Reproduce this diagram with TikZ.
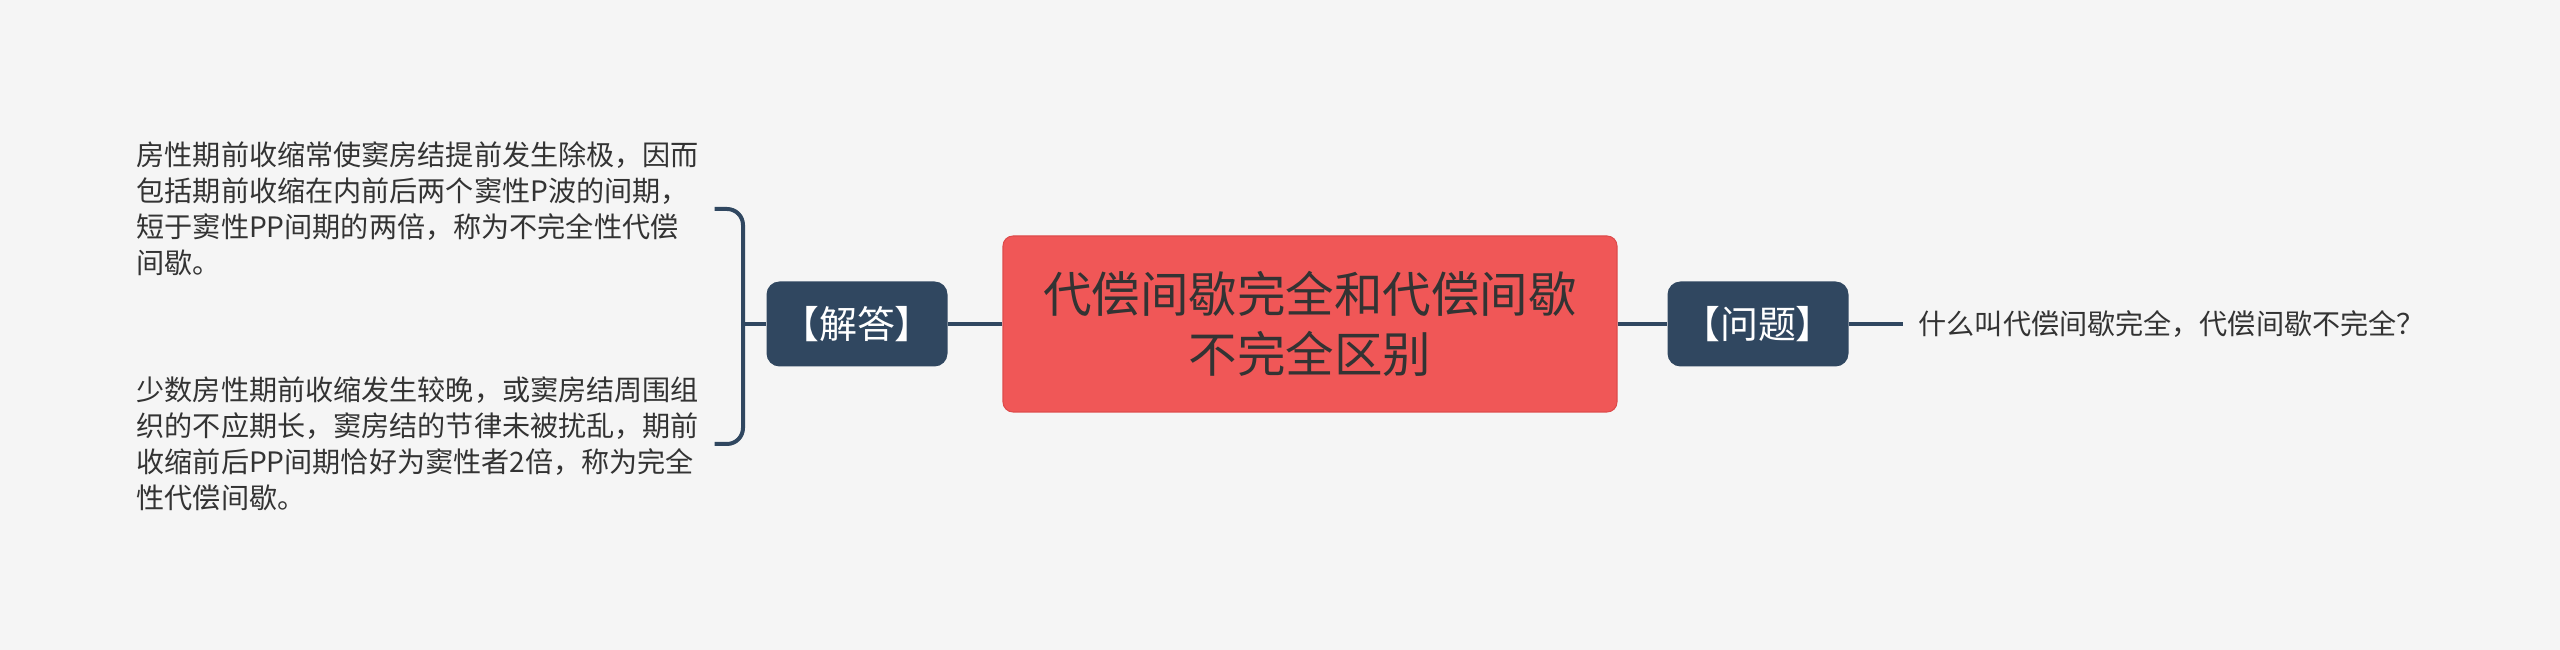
\documentclass[tikz,border=0pt]{standalone}
\usepackage{fontspec}
\setmainfont{Noto Sans CJK SC}
\usetikzlibrary{positioning}

\definecolor{bgcol}{HTML}{F5F5F5}
\definecolor{navy}{HTML}{304760}
\definecolor{coral}{HTML}{F05757}
\definecolor{coraledge}{HTML}{DE4B4B}
\definecolor{ink}{HTML}{333333}

\begin{document}
\begin{tikzpicture}[x=0.1mm, y=-0.1mm,
  every node/.style={font=\fontsize{8pt}{10.25pt}\selectfont, text=ink},
  root/.style={rectangle, rounded corners=1mm, fill=coral, draw=coraledge, line width=0.3pt,
    minimum width=61.4mm, minimum height=17.6mm, align=center,
    font=\fontsize{13.8pt}{17.1pt}\selectfont},
  topic/.style={rectangle, rounded corners=1.3mm, fill=navy, minimum width=18.1mm,
    minimum height=8.5mm, text=white, font=\fontsize{10.8pt}{13pt}\selectfont},
  leaf/.style={align=left, inner xsep=1.5mm, inner ysep=0pt},
  link/.style={draw=navy, line width=0.4mm}]
            \useasboundingbox (0,0) rectangle (2560,650);
            \fill[bgcol] (0,0) rectangle (2560,650);
            \node[root] (root) at (1310,324) {代偿间歇完全和代偿间歇\\不完全区别};
            \node[topic] (ans) at (857,324) {【解答】};
            \node[topic] (qst) at (1758,324) {【问题】};
            \node[leaf, anchor=west] (qtext) at (1903,324) {什么叫代偿间歇完全，代偿间歇不完全？};
            \node[leaf, anchor=west] (ansA) at (121,209) {房性期前收缩常使窦房结提前发生除极，因而\\包括期前收缩在内前后两个窦性P波的间期，\\短于窦性PP间期的两倍，称为不完全性代偿\\间歇。};
            \node[leaf, anchor=west] (ansB) at (121,444) {少数房性期前收缩发生较晚，或窦房结周围组\\织的不应期长，窦房结的节律未被扰乱，期前\\收缩前后PP间期恰好为窦性者2倍，称为完全\\性代偿间歇。};
            \coordinate (brk) at (743,324);
            \draw[link] (root) -- (ans);
            \draw[link] (root) -- (qst);
            \draw[link] (qst) -- (qtext);
            \draw[link] (brk) -- (ans);
            \draw[link, rounded corners=1.6mm] (ansA.east) -| (brk) |- (ansB.east);
        \end{tikzpicture}
\end{document}
